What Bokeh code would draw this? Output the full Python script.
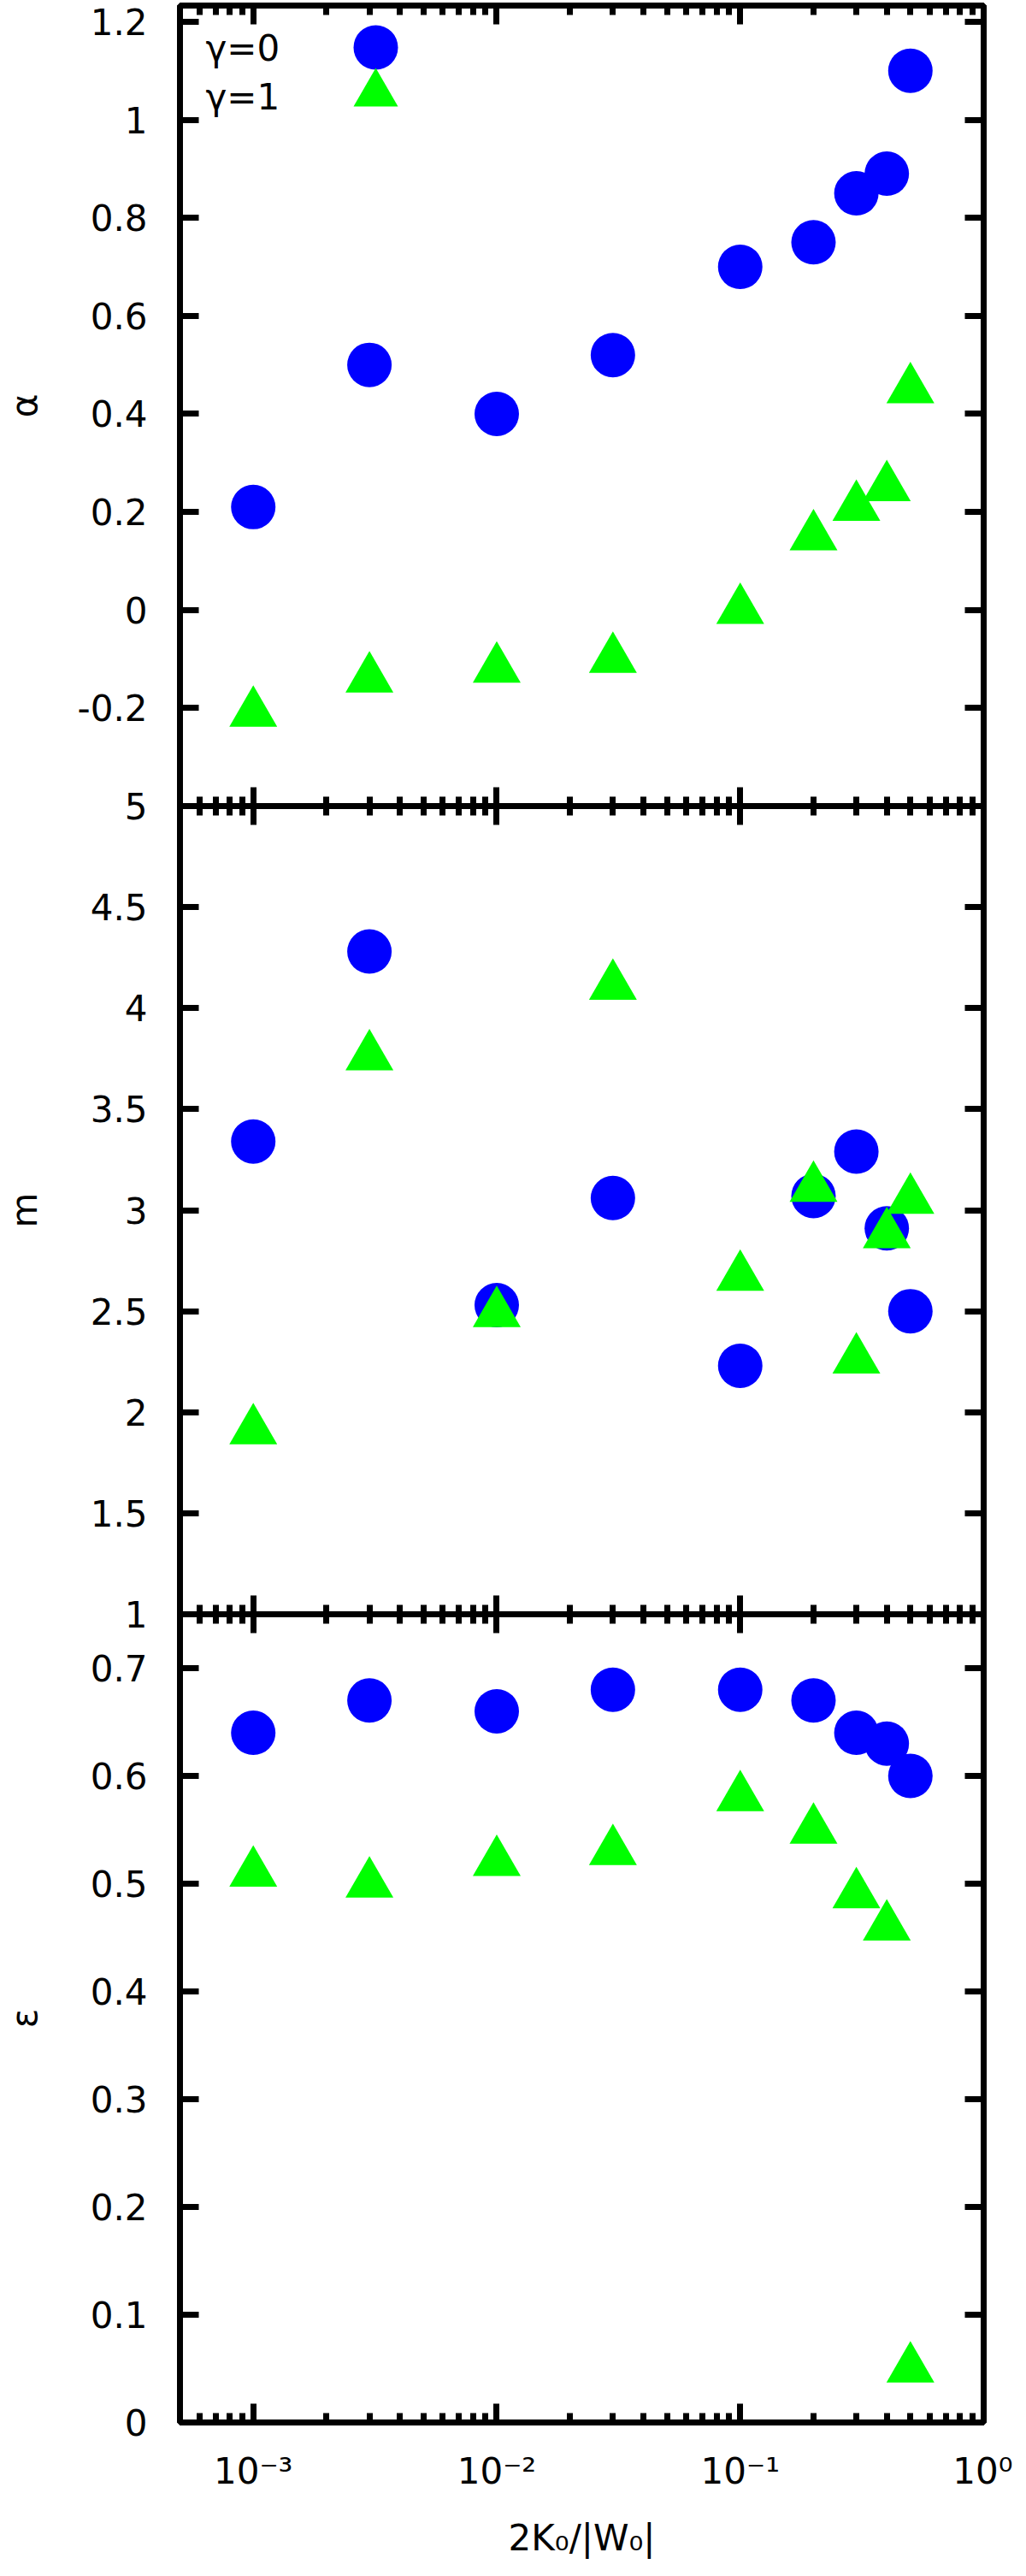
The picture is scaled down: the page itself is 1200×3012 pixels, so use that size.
from bokeh.plotting import figure
from bokeh.layouts import column
from bokeh.models import (Range1d, FixedTicker, LinearAxis, LogAxis, CustomJSTickFormatter,
                          Legend, LegendItem, Label, ColumnDataSource)
from bokeh.embed import file_html
from bokeh.resources import INLINE

# ---------------- data ----------------
ratio = [0.001, 0.003, 0.01, 0.03, 0.1, 0.2, 0.3, 0.4, 0.5]          # 2K0/|W0|

alpha_g0 = [0.21, 0.50, 0.40, 0.52, 0.70, 0.75, 0.85, 0.89, 1.10]
alpha_g1 = [-0.21, -0.14, -0.12, -0.10, 0.00, 0.15, 0.21, 0.25, 0.45]

m_g0 = [3.34, 4.28, 2.53, 3.06, 2.23, 3.07, 3.29, 2.91, 2.50]
m_g1 = [1.91, 3.76, 2.49, 4.11, 2.67, 3.11, 2.26, 2.88, 3.05]

eps_g0 = [0.64, 0.67, 0.66, 0.68, 0.68, 0.67, 0.64, 0.63, 0.60]
eps_g1 = [0.51, 0.50, 0.52, 0.53, 0.58, 0.55, 0.49, 0.46, 0.05]

series_labels = ["γ=0", "γ=1"]
y_titles = ["α", "m", "ε"]
x_title = "2K₀/|W₀|"

x_major_ticks = [0.001, 0.01, 0.1, 1.0]
x_minor_ticks = [k * d for d in (1e-4, 1e-3, 1e-2, 1e-1) for k in range(2, 10)]
alpha_ticks = [-0.2, 0.0, 0.2, 0.4, 0.6, 0.8, 1.0, 1.2]
m_ticks = [1.0, 1.5, 2.0, 2.5, 3.0, 3.5, 4.0, 4.5, 5.0]
eps_ticks = [0.0, 0.1, 0.2, 0.3, 0.4, 0.5, 0.6, 0.7]

# ---------------- style / layout ----------------
W = 1184
FONT = "DejaVu Sans"
FS = "42px"
LW = 7
BLUE = "#0000ff"
GREEN = "#00ff00"
LEFT, RIGHT = 208, 34
GAP = 30          # spare border at the panel junctions (overlapped)

num_fmt = CustomJSTickFormatter(code="return String(Math.round(tick*100)/100);")
pow_fmt = CustomJSTickFormatter(code="""
const sup = {'-':'\u207b','0':'\u2070','1':'\u00b9','2':'\u00b2','3':'\u00b3',
             '4':'\u2074','5':'\u2075','6':'\u2076','7':'\u2077','8':'\u2078','9':'\u2079'};
const e = Math.round(Math.log10(tick));
return '10' + String(e).split('').map(c => sup[c]).join('');
""")


def style_axis(ax, ticker, fmt, labels):
    ax.ticker = ticker
    ax.formatter = fmt
    ax.axis_line_color = None
    ax.major_tick_in = 22
    ax.major_tick_out = 0
    ax.minor_tick_in = 11
    ax.minor_tick_out = 0
    ax.major_tick_line_width = LW
    ax.minor_tick_line_width = LW
    ax.major_tick_line_color = "black"
    ax.minor_tick_line_color = "black"
    ax.major_label_text_font = FONT
    if labels:
        ax.major_label_text_font_size = FS
        ax.major_label_text_color = "black"
    else:
        ax.major_label_text_font_size = "1px"
        ax.major_label_text_color = None
        ax.major_label_standoff = 0


def make_panel(height, b_top, b_bottom, y_start, y_end, yticks, g0, g1, title, title_standoff,
               bottom_labels):
    p = figure(width=W, height=height, x_axis_type="log", x_range=Range1d(5e-4, 1.0),
               y_range=Range1d(y_start, y_end), output_backend="svg", toolbar_location=None,
               min_border_left=LEFT, min_border_right=RIGHT,
               min_border_top=b_top, min_border_bottom=b_bottom)
    p.background_fill_alpha = 0
    p.border_fill_alpha = 0
    p.outline_line_color = "black"
    p.outline_line_width = LW
    p.outline_line_alpha = 1
    p.grid.visible = False

    xt = FixedTicker(ticks=x_major_ticks, minor_ticks=x_minor_ticks)
    yt = FixedTicker(ticks=yticks, minor_ticks=[])

    style_axis(p.xaxis[0], xt, pow_fmt, bottom_labels)
    ya = p.yaxis[0]
    style_axis(ya, yt, num_fmt, True)
    ya.major_label_standoff = 38
    ya.axis_label = title
    ya.axis_label_text_font = FONT
    ya.axis_label_text_font_size = FS
    ya.axis_label_text_font_style = "normal"
    ya.axis_label_text_color = "black"
    ya.axis_label_standoff = title_standoff
    if bottom_labels:
        xa = p.xaxis[0]
        xa.major_label_standoff = 32
        xa.axis_label = x_title
        xa.axis_label_text_font = FONT
        xa.axis_label_text_font_size = FS
        xa.axis_label_text_font_style = "normal"
        xa.axis_label_text_color = "black"
        xa.axis_label_standoff = 26

    top = LogAxis(ticker=xt, formatter=pow_fmt)
    style_axis(top, xt, pow_fmt, False)
    p.add_layout(top, "above")
    right = LinearAxis(ticker=yt, formatter=num_fmt)
    style_axis(right, yt, num_fmt, False)
    p.add_layout(right, "right")

    src = ColumnDataSource(dict(x=ratio, g0=g0, g1=g1))
    r0 = p.scatter("x", "g0", source=src, marker="circle", size=52,
                   fill_color=BLUE, line_color=None)
    r1 = p.scatter("x", "g1", source=src, marker="triangle", size=56,
                   fill_color=GREEN, line_color=None)
    return p, r0, r1


# frames: page y 14-950, 950-1895, 1895-2840
p1, a0, a1 = make_panel(972, 6, GAP, -0.4, 1.233, alpha_ticks, alpha_g0, alpha_g1,
                        y_titles[0], 35, False)
p2, _, _ = make_panel(1005, GAP, GAP, 1.0, 5.0, m_ticks, m_g0, m_g1, y_titles[1], 50, False)
p3, _, _ = make_panel(1139, GAP, 164, 0.0, 0.75, eps_ticks, eps_g0, eps_g1, y_titles[2], 50, True)
p2.margin = (-2 * GAP, 0, 0, 0)
p3.margin = (-2 * GAP, 0, 0, 0)

# key: text on the left, sample on the right (as in the reference)
fh1 = 936
for lab, rend, vy, ty in ((series_labels[0], a0, 822, fh1 - 50), (series_labels[1], a1, 768, fh1 - 107)):
    leg = Legend(items=[LegendItem(label=lab, renderers=[rend])], location=(164, vy))
    leg.padding = 0
    leg.margin = 0
    leg.spacing = 0
    leg.glyph_width = 130
    leg.glyph_height = 130
    leg.label_text_font_size = "1px"
    leg.label_text_color = None
    leg.border_line_color = None
    leg.background_fill_alpha = 0
    leg.inactive_fill_alpha = 0
    p1.add_layout(leg)
    p1.add_layout(Label(x=30, y=ty, x_units="screen", y_units="screen", text=lab,
                        text_align="left", text_baseline="middle",
                        text_font=FONT, text_font_size=FS, text_color="black"))

layout = column(p1, p2, p3, spacing=0)

open("out.html", "w", encoding="utf-8").write(file_html(layout, INLINE))
